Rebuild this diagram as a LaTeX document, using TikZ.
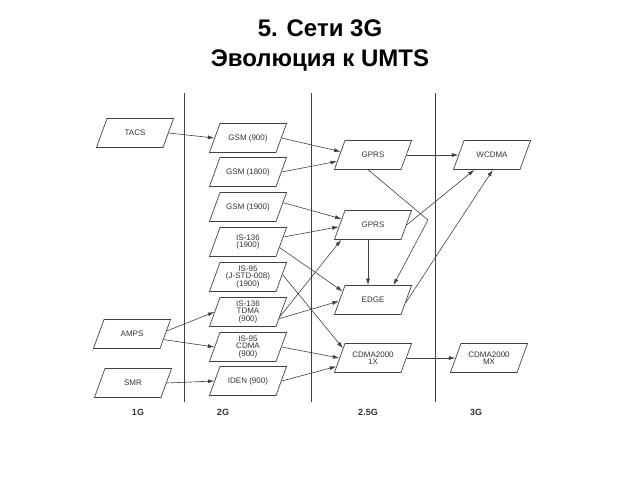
\documentclass[tikz,border=0pt]{standalone}
\usepackage{fontspec}
\setmainfont{Liberation Sans}
\usetikzlibrary{shapes.geometric,arrows.meta}
\definecolor{ln}{HTML}{404040}
\newcommand{\pbtext}[1]{\begin{minipage}[c][27pt][c]{54pt}\centering\fontsize{8}{7.6}\selectfont #1\end{minipage}}
\tikzset{
  pbox/.style={trapezium, trapezium left angle=70, trapezium right angle=110,
    draw=ln, line width=0.7pt, inner sep=1pt, text=black!80},
  conn/.style={draw=ln, line width=0.6pt, -{Latex[length=6.5pt,width=4pt]}},
  layer/.style={draw=ln, line width=0.7pt},
  glabel/.style={font=\bfseries\fontsize{9}{10}\selectfont, text=black!80},
  ttl/.style={font=\bfseries\fontsize{24}{30}\selectfont, align=center}
}
\begin{document}
\begin{tikzpicture}[x=1pt,y=-1pt]
\useasboundingbox (0,0) rectangle (640,480);
\node[ttl] (title) at (320,46) {5. Сети 3G\\Эволюция к UMTS};
% layer lines
\coordinate (l1t) at (184,93); \coordinate (l1b) at (184,402);
\coordinate (l2t) at (311,93); \coordinate (l2b) at (311,402);
\coordinate (l3t) at (435,93); \coordinate (l3b) at (435,402);
\draw[layer] (l1t) -- (l1b);
\draw[layer] (l2t) -- (l2b);
\draw[layer] (l3t) -- (l3b);
% 1G
\node[pbox] (tacs) at (135,133) {\pbtext{TACS}};
\node[pbox] (amps) at (132,334) {\pbtext{AMPS}};
\node[pbox] (smr) at (133,383) {\pbtext{SMR}};
% 2G
\node[pbox] (gsm9) at (248,138) {\pbtext{GSM (900)}};
\node[pbox] (gsm18) at (248,172) {\pbtext{GSM (1800)}};
\node[pbox] (gsm19) at (248,207) {\pbtext{GSM (1900)}};
\node[pbox] (is136a) at (248,242) {\pbtext{IS-136\\(1900)}};
\node[pbox] (is95j) at (248,277) {\pbtext{IS-95\\(J-STD-008)\\(1900)}};
\node[pbox] (is136t) at (248,312) {\pbtext{IS-136\\TDMA\\(900)}};
\node[pbox] (is95c) at (248,347) {\pbtext{IS-95\\CDMA\\(900)}};
\node[pbox] (iden) at (248,381) {\pbtext{IDEN (900)}};
% 2.5G
\node[pbox] (gprsa) at (373,155) {\pbtext{GPRS}};
\node[pbox] (gprsb) at (373,225) {\pbtext{GPRS}};
\node[pbox] (edge) at (373,300) {\pbtext{EDGE}};
\node[pbox] (cdma1x) at (373,358) {\pbtext{CDMA2000\\1X}};
% 3G
\node[pbox] (wcdma) at (492,155) {\pbtext{WCDMA}};
\node[pbox] (mx) at (489,358) {\pbtext{CDMA2000\\MX}};
% layer labels
\node[glabel] (g1) at (138,412) {1G};
\node[glabel] (g2) at (223,412) {2G};
\node[glabel] (g25) at (368,412) {2.5G};
\node[glabel] (g3) at (476,412) {3G};
% connectors
\draw[conn] (tacs.east) -- (gsm9.west);
\draw[conn] (amps.5) -- (is136t.west);
\draw[conn] (amps.350) -- (is95c.west);
\draw[conn] (smr.east) -- (iden.west);
\draw[conn] (gsm9.east) -- (gprsa.174);
\draw[conn] (gsm18.east) -- (gprsa.190);
\draw[conn] (gsm19.7) -- (gprsb.169);
\draw[conn] (is136a.8) -- (gprsb.183);
\draw[conn] (is136a.350) -- (edge.164);
\draw[conn] (is95j.4) -- (cdma1x.162);
\draw[conn] (is136t.352) -- (gprsb.205);
\draw[conn] (is136t.348) -- (edge.182);
\draw[conn] (is95c.east) -- (cdma1x.180);
\draw[conn] (iden.east) -- (cdma1x.193);
\draw[conn] (gprsa.east) -- (wcdma.west);
\coordinate (bend) at (428,220);
\draw[conn] (gprsa.252) -- (bend) -- (edge.36);
\draw[conn] ([xshift=-5pt]gprsb.south) -- ([xshift=-5pt]edge.north);
\draw[conn] (gprsb.east) -- (wcdma.220);
\draw[conn] (edge.355) -- (wcdma.273);
\draw[conn] (cdma1x.east) -- (mx.west);
\end{tikzpicture}
\end{document}
